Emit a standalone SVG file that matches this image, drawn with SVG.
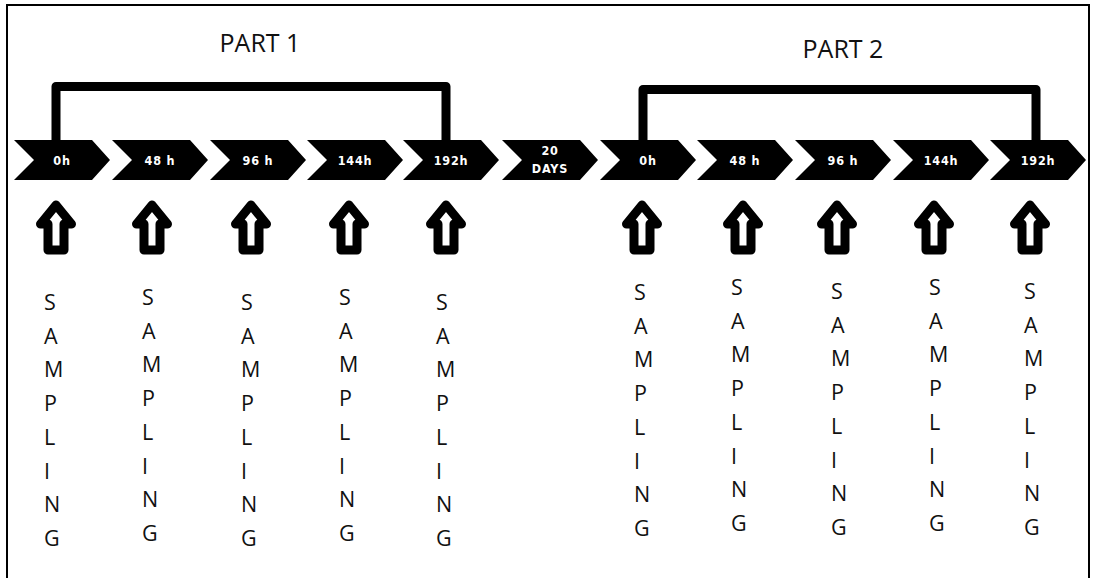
<svg xmlns="http://www.w3.org/2000/svg" width="1095" height="578" viewBox="0 0 1095 578">
  <defs>
    <style>
      .frame { fill: none; stroke: #000; stroke-width: 2; }
      .chev { fill: #000; }
      .chev-label { fill: #fff; font-family: "DejaVu Sans Condensed", "DejaVu Sans", sans-serif; font-weight: bold; font-size: 12.5px; letter-spacing: 0.8px; text-anchor: middle; }
      .bracket { fill: none; stroke: #000; stroke-width: 9; stroke-linejoin: round; }
      .part { fill: #111; font-family: "Open Sans", "Liberation Sans", sans-serif; font-size: 25px; }
      .up { fill: #fff; stroke: #000; stroke-width: 9; stroke-linejoin: round; }
      .sampling { fill: #111; font-family: "Open Sans", "Liberation Sans", sans-serif; font-size: 21.5px; }
    </style>
    <!-- timeline chevron, 96 wide, 40 tall -->
    <path id="chevron" d="M0,0 H78 L96,20 L78,40 H0 L20,20 Z"/>
    <!-- hollow upward arrow -->
    <path id="uparrow" d="M0,205 L15.5,224 H8 V250 H-8 V224 H-15.5 Z"/>
  </defs>

  <!-- outer frame -->
  <path class="frame" d="M7,590 V5 H1089 V590"/>

  <!-- phase headings -->
  <text class="part" x="260" y="52" text-anchor="middle">PART 1</text>
  <text class="part" x="843" y="58" text-anchor="middle">PART 2</text>

  <!-- connectors: brackets spanning each part -->
  <g id="connectors">
    <path class="bracket" d="M56,140 V86.5 H446 V140"/>
    <path class="bracket" d="M643,140 V89.5 H1036 V140"/>
  </g>

  <!-- timeline steps -->
  <g id="p1-0h"><use href="#chevron" class="chev" x="14" y="140"/><text class="chev-label" x="62" y="165">0h</text></g>
  <g id="p1-48h"><use href="#chevron" class="chev" x="112" y="140"/><text class="chev-label" x="160" y="165">48 h</text></g>
  <g id="p1-96h"><use href="#chevron" class="chev" x="210" y="140"/><text class="chev-label" x="258" y="165">96 h</text></g>
  <g id="p1-144h"><use href="#chevron" class="chev" x="307" y="140"/><text class="chev-label" x="355" y="165">144h</text></g>
  <g id="p1-192h"><use href="#chevron" class="chev" x="403" y="140"/><text class="chev-label" x="451" y="165">192h</text></g>
  <g id="gap-20days"><use href="#chevron" class="chev" x="502" y="140"/><text class="chev-label" x="550" y="155">20</text><text class="chev-label" x="550" y="173">DAYS</text></g>
  <g id="p2-0h"><use href="#chevron" class="chev" x="600" y="140"/><text class="chev-label" x="648" y="165">0h</text></g>
  <g id="p2-48h"><use href="#chevron" class="chev" x="697" y="140"/><text class="chev-label" x="745" y="165">48 h</text></g>
  <g id="p2-96h"><use href="#chevron" class="chev" x="795" y="140"/><text class="chev-label" x="843" y="165">96 h</text></g>
  <g id="p2-144h"><use href="#chevron" class="chev" x="893" y="140"/><text class="chev-label" x="941" y="165">144h</text></g>
  <g id="p2-192h"><use href="#chevron" class="chev" x="990" y="140"/><text class="chev-label" x="1038" y="165">192h</text></g>

  <!-- sampling points: arrow plus vertical label -->
  <g id="s1"><use href="#uparrow" class="up" x="56"/>
    <text class="sampling"><tspan x="44" y="310">S</tspan><tspan x="44" y="343.7">A</tspan><tspan x="44" y="377.4">M</tspan><tspan x="44" y="411.1">P</tspan><tspan x="44" y="444.8">L</tspan><tspan x="44" y="478.5">I</tspan><tspan x="44" y="512.2">N</tspan><tspan x="44" y="545.9">G</tspan></text></g>
  <g id="s2"><use href="#uparrow" class="up" x="152"/>
    <text class="sampling"><tspan x="142" y="305">S</tspan><tspan x="142" y="338.7">A</tspan><tspan x="142" y="372.4">M</tspan><tspan x="142" y="406.1">P</tspan><tspan x="142" y="439.8">L</tspan><tspan x="142" y="473.5">I</tspan><tspan x="142" y="507.2">N</tspan><tspan x="142" y="540.9">G</tspan></text></g>
  <g id="s3"><use href="#uparrow" class="up" x="251"/>
    <text class="sampling"><tspan x="241" y="310">S</tspan><tspan x="241" y="343.7">A</tspan><tspan x="241" y="377.4">M</tspan><tspan x="241" y="411.1">P</tspan><tspan x="241" y="444.8">L</tspan><tspan x="241" y="478.5">I</tspan><tspan x="241" y="512.2">N</tspan><tspan x="241" y="545.9">G</tspan></text></g>
  <g id="s4"><use href="#uparrow" class="up" x="349"/>
    <text class="sampling"><tspan x="339" y="305">S</tspan><tspan x="339" y="338.7">A</tspan><tspan x="339" y="372.4">M</tspan><tspan x="339" y="406.1">P</tspan><tspan x="339" y="439.8">L</tspan><tspan x="339" y="473.5">I</tspan><tspan x="339" y="507.2">N</tspan><tspan x="339" y="540.9">G</tspan></text></g>
  <g id="s5"><use href="#uparrow" class="up" x="446"/>
    <text class="sampling"><tspan x="436" y="310">S</tspan><tspan x="436" y="343.7">A</tspan><tspan x="436" y="377.4">M</tspan><tspan x="436" y="411.1">P</tspan><tspan x="436" y="444.8">L</tspan><tspan x="436" y="478.5">I</tspan><tspan x="436" y="512.2">N</tspan><tspan x="436" y="545.9">G</tspan></text></g>
  <g id="s6"><use href="#uparrow" class="up" x="642"/>
    <text class="sampling"><tspan x="634" y="300">S</tspan><tspan x="634" y="333.7">A</tspan><tspan x="634" y="367.4">M</tspan><tspan x="634" y="401.1">P</tspan><tspan x="634" y="434.8">L</tspan><tspan x="634" y="468.5">I</tspan><tspan x="634" y="502.2">N</tspan><tspan x="634" y="535.9">G</tspan></text></g>
  <g id="s7"><use href="#uparrow" class="up" x="743"/>
    <text class="sampling"><tspan x="731" y="295">S</tspan><tspan x="731" y="328.7">A</tspan><tspan x="731" y="362.4">M</tspan><tspan x="731" y="396.1">P</tspan><tspan x="731" y="429.8">L</tspan><tspan x="731" y="463.5">I</tspan><tspan x="731" y="497.2">N</tspan><tspan x="731" y="530.9">G</tspan></text></g>
  <g id="s8"><use href="#uparrow" class="up" x="837"/>
    <text class="sampling"><tspan x="831" y="299">S</tspan><tspan x="831" y="332.7">A</tspan><tspan x="831" y="366.4">M</tspan><tspan x="831" y="400.1">P</tspan><tspan x="831" y="433.8">L</tspan><tspan x="831" y="467.5">I</tspan><tspan x="831" y="501.2">N</tspan><tspan x="831" y="534.9">G</tspan></text></g>
  <g id="s9"><use href="#uparrow" class="up" x="934"/>
    <text class="sampling"><tspan x="929" y="295">S</tspan><tspan x="929" y="328.7">A</tspan><tspan x="929" y="362.4">M</tspan><tspan x="929" y="396.1">P</tspan><tspan x="929" y="429.8">L</tspan><tspan x="929" y="463.5">I</tspan><tspan x="929" y="497.2">N</tspan><tspan x="929" y="530.9">G</tspan></text></g>
  <g id="s10"><use href="#uparrow" class="up" x="1030"/>
    <text class="sampling"><tspan x="1024" y="299">S</tspan><tspan x="1024" y="332.7">A</tspan><tspan x="1024" y="366.4">M</tspan><tspan x="1024" y="400.1">P</tspan><tspan x="1024" y="433.8">L</tspan><tspan x="1024" y="467.5">I</tspan><tspan x="1024" y="501.2">N</tspan><tspan x="1024" y="534.9">G</tspan></text></g>
</svg>
